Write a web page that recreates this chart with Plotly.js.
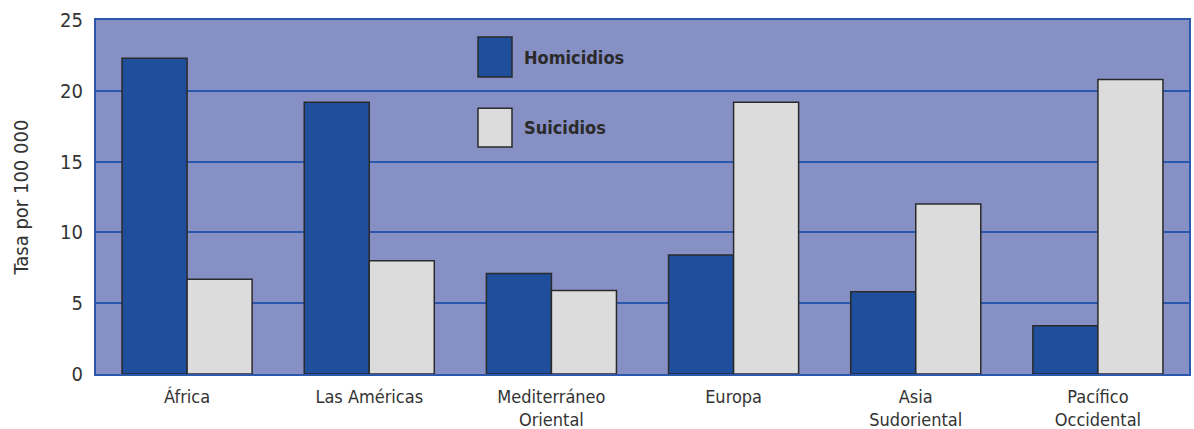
<!DOCTYPE html>
<html>
<head>
<meta charset="utf-8">
<script src="https://cdn.plot.ly/plotly-3.0.1.min.js"></script>
<style>html,body{margin:0;padding:0;background:#fff;}#chart{width:1194px;height:429px;}</style>
</head>
<body>
<div id="chart"></div>
<script>
const regions = ["África", "Las Américas", "Mediterráneo<br>Oriental", "Europa", "Asia<br>Sudoriental", "Pacífico<br>Occidental"];
const homicidios = [22.3, 19.2, 7.1, 8.4, 5.8, 3.4];
const suicidios = [6.7, 8.0, 5.9, 19.2, 12.0, 20.8];
const seriesNames = ["Homicidios", "Suicidios"];
const yTicks = [0, 5, 10, 15, 20, 25];

const fontFam = "'DejaVu Sans Condensed', 'Open Sans', Arial, sans-serif";
const colH = "#1f4e9d";
const colS = "#dcdcdc";

const traces = [
  {type: "bar", name: seriesNames[0], x: regions, y: homicidios,
   marker: {color: colH, line: {color: "#2a2a2a", width: 1.5}}, showlegend: false, hoverinfo: "none"},
  {type: "bar", name: seriesNames[1], x: regions, y: suicidios,
   marker: {color: colS, line: {color: "#2a2a2a", width: 1.5}}, showlegend: false, hoverinfo: "none"}
];

const layout = {
  width: 1194, height: 429,
  margin: {l: 96, r: 5, t: 20, b: 55},
  paper_bgcolor: "#ffffff",
  plot_bgcolor: "#8790c5",
  barmode: "group",
  bargap: 0.286,
  bargroupgap: 0,
  font: {family: fontFam, color: "#333333", size: 17},
  xaxis: {
    showgrid: false, zeroline: false,
    showline: true, linecolor: "#2b57ad", linewidth: 2, mirror: true,
    ticks: "", ticklabelstandoff: 5, tickfont: {size: 18, color: "#333333"}
  },
  yaxis: {
    range: [0, 25], tickvals: yTicks, ticktext: yTicks.map(String),
    showgrid: true, gridcolor: "#2b57ad", gridwidth: 2,
    zeroline: false,
    showline: true, linecolor: "#2b57ad", linewidth: 2, mirror: true,
    ticks: "", ticklabelstandoff: 7,
    tickfont: {size: 20, color: "#333333"},
    title: {text: "Tasa por 100 000", font: {size: 20, color: "#333333"}, standoff: 26}
  },
  shapes: [
    {type: "rect", xref: "paper", yref: "paper", x0: 0.3495, x1: 0.3806, y0: 0.839, y1: 0.952,
     fillcolor: colH, line: {color: "#2a2a2a", width: 1.5}},
    {type: "rect", xref: "paper", yref: "paper", x0: 0.3495, x1: 0.3806, y0: 0.641, y1: 0.751,
     fillcolor: colS, line: {color: "#2a2a2a", width: 1.5}}
  ],
  annotations: [
    {xref: "paper", yref: "paper", x: 0.3898, y: 0.895, xanchor: "left", yanchor: "middle",
     text: "<b>" + seriesNames[0] + "</b>", showarrow: false, font: {size: 18, color: "#2a2a2a"}},
    {xref: "paper", yref: "paper", x: 0.3898, y: 0.696, xanchor: "left", yanchor: "middle",
     text: "<b>" + seriesNames[1] + "</b>", showarrow: false, font: {size: 18, color: "#2a2a2a"}}
  ]
};

Plotly.newPlot("chart", traces, layout, {staticPlot: true, displayModeBar: false});
</script>
</body>
</html>
